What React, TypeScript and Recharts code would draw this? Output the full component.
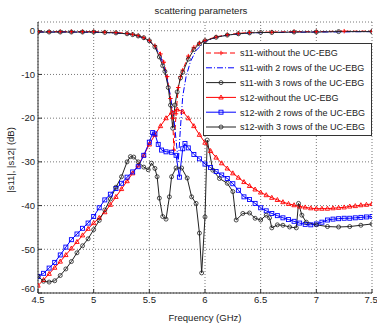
import { CartesianGrid, Label, Line, LineChart, XAxis, YAxis } from "recharts";

const FONT = "'Liberation Sans', Arial, sans-serif";

// tick labels
const freqTicks = [4.5, 5, 5.5, 6, 6.5, 7, 7.5];
const dbTicks = [-60, -50, -40, -30, -20, -10, 0];

// s11 without the UC-EBG
const s11RedF = [4.5, 4.6, 4.7, 4.8, 4.9, 5.0, 5.1, 5.2, 5.3, 5.35, 5.4, 5.45, 5.5, 5.55, 5.6, 5.63, 5.66, 5.69, 5.71, 5.72, 5.74, 5.76, 5.78, 5.8, 5.85, 5.9, 5.95, 6.0, 6.1, 6.2, 6.3, 6.4, 6.6, 6.8, 7.0, 7.25, 7.5];
const s11RedV = [-0.2, -0.2, -0.2, -0.2, -0.2, -0.2, -0.3, -0.4, -0.6, -0.8, -1.1, -1.6, -2.2, -3.4, -5.3, -7.2, -10.5, -15.5, -20, -27.3, -19, -13, -10.5, -9, -5.8, -3.8, -2.8, -2.2, -1.4, -0.9, -0.6, -0.4, -0.3, -0.2, -0.2, -0.1, -0.1];

// s11 with 2 rows
const s11BlueF = [4.5, 4.8, 5.1, 5.3, 5.4, 5.5, 5.55, 5.6, 5.65, 5.69, 5.72, 5.74, 5.76, 5.78, 5.8, 5.83, 5.87, 5.92, 6.0, 6.1, 6.2, 6.4, 6.6, 7.0, 7.5];
const s11BlueV = [-0.3, -0.3, -0.4, -0.7, -1.2, -2.4, -3.6, -5.8, -9.8, -15, -20, -25, -30, -22, -15, -10.5, -7.0, -4.5, -2.5, -1.5, -1.0, -0.5, -0.4, -0.3, -0.2];

// s11 with 3 rows
const s11BlackF = [4.5, 4.6, 4.7, 4.8, 4.9, 5.0, 5.1, 5.2, 5.3, 5.35, 5.4, 5.45, 5.5, 5.55, 5.59, 5.62, 5.64, 5.67, 5.69, 5.71, 5.73, 5.75, 5.78, 5.8, 5.85, 5.9, 5.95, 6.0, 6.1, 6.2, 6.3, 6.4, 6.5, 6.6, 6.8, 7.0, 7.2, 7.5];
const s11BlackV = [-0.3, -0.3, -0.3, -0.3, -0.3, -0.3, -0.4, -0.5, -0.7, -0.9, -1.2, -1.6, -2.3, -3.7, -6.0, -8.0, -9.3, -13, -17, -22.3, -17, -14, -10.8, -9.5, -6.5, -4.3, -3.0, -2.3, -1.5, -1.0, -0.7, -0.5, -0.4, -0.4, -0.3, -0.3, -0.2, -0.2];

// s12 without the UC-EBG
const s12RedF = [4.5, 4.55, 4.6, 4.65, 4.7, 4.75, 4.8, 4.85, 4.9, 4.95, 5.0, 5.05, 5.1, 5.15, 5.2, 5.25, 5.3, 5.35, 5.4, 5.45, 5.5, 5.55, 5.6, 5.65, 5.7, 5.75, 5.8, 5.85, 5.9, 5.95, 6.0, 6.05, 6.1, 6.15, 6.2, 6.25, 6.3, 6.35, 6.4, 6.45, 6.5, 6.55, 6.6, 6.65, 6.7, 6.75, 6.8, 6.85, 6.9, 6.95, 7.0, 7.05, 7.1, 7.15, 7.2, 7.25, 7.3, 7.35, 7.4, 7.45, 7.5];
const s12RedV = [-58.3, -57.0, -55.6, -54.2, -52.8, -51.3, -49.8, -48.3, -46.8, -45.3, -44.0, -42.8, -41.5, -39.8, -38.0, -36.2, -34.4, -32.6, -30.8, -28.5, -26.0, -23.8, -21.8, -20.0, -18.7, -18.0, -18.5, -20.0, -21.8, -23.8, -25.6, -27.5, -29.0, -30.3, -31.5, -32.6, -33.6, -34.6, -35.5, -36.3, -37.0, -37.6, -38.2, -38.7, -39.2, -39.6, -39.9, -40.2, -40.4, -40.6, -40.7, -40.7, -40.7, -40.6, -40.5, -40.4, -40.2, -40.1, -39.9, -39.8, -39.6];

// s12 with 2 rows
const s12BlueF = [4.5, 4.55, 4.6, 4.65, 4.7, 4.75, 4.8, 4.85, 4.9, 4.95, 5.0, 5.05, 5.1, 5.15, 5.2, 5.25, 5.3, 5.35, 5.4, 5.45, 5.5, 5.53, 5.55, 5.58, 5.61, 5.65, 5.7, 5.74, 5.77, 5.8, 5.82, 5.85, 5.9, 5.95, 6.0, 6.05, 6.1, 6.15, 6.2, 6.25, 6.3, 6.35, 6.4, 6.45, 6.5, 6.55, 6.6, 6.65, 6.7, 6.75, 6.8, 6.85, 6.9, 6.95, 7.0, 7.05, 7.1, 7.15, 7.2, 7.25, 7.3, 7.35, 7.4, 7.45, 7.5];
const s12BlueV = [-56.2, -55.5, -54.3, -53.0, -51.3, -49.5, -47.8, -46.5, -45.2, -44.0, -42.5, -40.5, -38.7, -37.4, -36.1, -34.9, -33.5, -32.3, -31.1, -28.5, -25.5, -23.3, -23.6, -26.0, -27.3, -27.7, -27.8, -28.5, -33.5, -27.0, -25.8, -26.8, -28.3, -29.3, -30.5, -31.3, -32.2, -33.0, -33.8, -35.0, -36.5, -38.0, -38.6, -39.5, -40.5, -41.2, -41.8, -42.3, -42.8, -43.2, -43.6, -44.0, -44.3, -44.4, -44.2, -43.8, -43.3, -43.1, -43.0, -42.9, -42.9, -42.8, -42.7, -42.6, -42.5];

// s12 with 3 rows
const s12BlackF = [4.5, 4.55, 4.6, 4.65, 4.7, 4.75, 4.8, 4.85, 4.9, 4.95, 5.0, 5.05, 5.1, 5.15, 5.2, 5.25, 5.3, 5.33, 5.36, 5.4, 5.45, 5.49, 5.52, 5.55, 5.57, 5.59, 5.62, 5.65, 5.68, 5.7, 5.74, 5.79, 5.84, 5.88, 5.92, 5.95, 5.97, 6.0, 6.02, 6.07, 6.13, 6.2, 6.25, 6.28, 6.34, 6.4, 6.45, 6.5, 6.55, 6.58, 6.6, 6.65, 6.7, 6.76, 6.82, 6.84, 6.87, 6.91, 7.0, 7.1, 7.2, 7.3, 7.4, 7.5];
const s12BlackV = [-56.2, -57.3, -57.5, -57.2, -56.0, -54.5, -52.8, -50.8, -49.2, -47.6, -45.5, -43.4, -41.0, -38.5, -35.8, -33.4, -30.0, -28.8, -28.9, -30.0, -31.2, -31.8, -30.3, -31.5, -33.4, -38.3, -42.5, -43.1, -38.0, -33.4, -31.4, -31.4, -33.7, -38.0, -39.5, -46.3, -55.4, -42.6, -25.0, -31.9, -33.8, -34.9, -36.8, -43.3, -41.8, -41.7, -42.9, -43.3, -42.2, -42.8, -45.1, -44.4, -44.5, -44.9, -45.1, -39.5, -42.2, -43.8, -44.4, -44.8, -44.9, -44.8, -44.5, -44.2];

const toRows = (f: number[], v: number[]) => f.map((x, i) => ({ f: x, v: v[i] }));

const plusDot = (c: string) => (p: any) => (
  <path key={p.index} d={`M${p.cx - 2.2},${p.cy}h4.4M${p.cx},${p.cy - 2.2}v4.4`} stroke={c} strokeWidth={1} fill="none" />
);
const triDot = (c: string) => (p: any) => (
  <path key={p.index} d={`M${p.cx},${p.cy - 2.4}L${p.cx + 2.2},${p.cy + 1.6}L${p.cx - 2.2},${p.cy + 1.6}Z`} stroke={c} strokeWidth={0.9} fill="none" />
);
const sqDot = (c: string) => (p: any) => (
  <rect key={p.index} x={p.cx - 2} y={p.cy - 2} width={4} height={4} stroke={c} strokeWidth={0.9} fill="none" />
);
const circDot = (c: string) => (p: any) => (
  <circle key={p.index} cx={p.cx} cy={p.cy} r={2} stroke={c} strokeWidth={0.8} fill="none" />
);

const series = [
  { name: "s11-without the UC-EBG", data: toRows(s11RedF, s11RedV), color: "#ff0000", dash: "5 3", dot: plusDot },
  { name: "s11-with 2 rows of the UC-EBG", data: toRows(s11BlueF, s11BlueV), color: "#0000ff", dash: "6 2 1 2", dot: null },
  { name: "s11-with 3 rows of the UC-EBG", data: toRows(s11BlackF, s11BlackV), color: "#222222", dash: undefined, dot: circDot },
  { name: "s12-without the UC-EBG", data: toRows(s12RedF, s12RedV), color: "#ff0000", dash: undefined, dot: triDot },
  { name: "s12-with 2 rows of the UC-EBG", data: toRows(s12BlueF, s12BlueV), color: "#0000ff", dash: undefined, dot: sqDot },
  { name: "s12-with 3 rows of the UC-EBG", data: toRows(s12BlackF, s12BlackV), color: "#222222", dash: undefined, dot: circDot },
];

const noLabel = () => <text />;

// y tick labels; the lowest one sits a bit higher so it clears "4.5"
const YTick = (p: any) => {
  const v = p.payload.value;
  return (
    <text x={p.x} y={p.y + (v === -60 ? -1 : 3.3)} textAnchor="end" fontSize={9.5} fontFamily={FONT} fill="#222">
      {v}
    </text>
  );
};

function LegendBox() {
  return (
    <svg width={169} height={93} style={{ position: "absolute", left: 203, top: 43 }}>
      <rect x={0.5} y={0.5} width={168} height={92} fill="#fff" stroke="#333" strokeWidth={1} />
      {series.map((s, i) => {
        const y = 10 + i * 14.8;
        const Dot = s.dot ? s.dot(s.color) : null;
        return (
          <g key={s.name}>
            <line x1={3} x2={33} y1={y} y2={y} stroke={s.color} strokeWidth={1} strokeDasharray={s.dash} />
            {Dot && Dot({ cx: 18, cy: y, index: 0 })}
            <text x={37} y={y + 3.3} fontSize={9} fontFamily={FONT} fill="#222">
              {s.name}
            </text>
          </g>
        );
      })}
    </svg>
  );
}

export default function App() {
  return (
    <div style={{ position: "absolute", left: 0, top: 0, width: 377, height: 324, background: "#fff" }}>
      <div
        style={{
          position: "absolute",
          left: 201,
          top: 5,
          transform: "translateX(-50%)",
          fontFamily: FONT,
          fontSize: 9.6,
          color: "#222",
          whiteSpace: "nowrap",
        }}
      >
        scattering parameters
      </div>
      <LineChart width={377} height={324} margin={{ top: 22, right: 5, bottom: 0, left: 0 }}>
        <CartesianGrid stroke="#555" strokeDasharray="1 2" strokeWidth={0.8} />
        <XAxis
          dataKey="f"
          type="number"
          domain={[4.5, 7.5]}
          ticks={freqTicks}
          allowDataOverflow
          height={31}
          tickSize={-4}
          tickMargin={7}
          stroke="#333"
          tick={{ fontSize: 9.5, fontFamily: FONT, fill: "#222" }}
        >
          <Label value="Frequency (GHz)" position="insideBottom" offset={3} style={{ fontSize: 9.5, fontFamily: FONT, fill: "#222" }} />
        </XAxis>
        <XAxis
          xAxisId="top"
          orientation="top"
          dataKey="f"
          type="number"
          domain={[4.5, 7.5]}
          ticks={freqTicks}
          height={0}
          tickSize={-4}
          stroke="#333"
          tick={noLabel}
        />
        <YAxis
          type="number"
          domain={[-60, 2]}
          ticks={dbTicks}
          allowDataOverflow
          width={38}
          tickSize={-4}
          tickMargin={7}
          stroke="#333"
          tick={YTick}
        >
          <Label
            content={() => (
              <text transform="translate(14,160) rotate(-90)" textAnchor="middle" fontSize={9.5} fontFamily={FONT} fill="#222">
                |s11|, |s12| (dB)
              </text>
            )}
          />
        </YAxis>
        <YAxis
          yAxisId="right"
          orientation="right"
          type="number"
          domain={[-60, 2]}
          ticks={dbTicks}
          width={0}
          tickSize={-4}
          stroke="#333"
          tick={noLabel}
        />
        {series.map((s) => (
          <Line
            key={s.name}
            data={s.data}
            dataKey="v"
            type="linear"
            stroke={s.color}
            strokeWidth={1}
            strokeDasharray={s.dash}
            dot={s.dot ? s.dot(s.color) : false}
            activeDot={false}
            isAnimationActive={false}
          />
        ))}
      </LineChart>
      <LegendBox />
    </div>
  );
}
